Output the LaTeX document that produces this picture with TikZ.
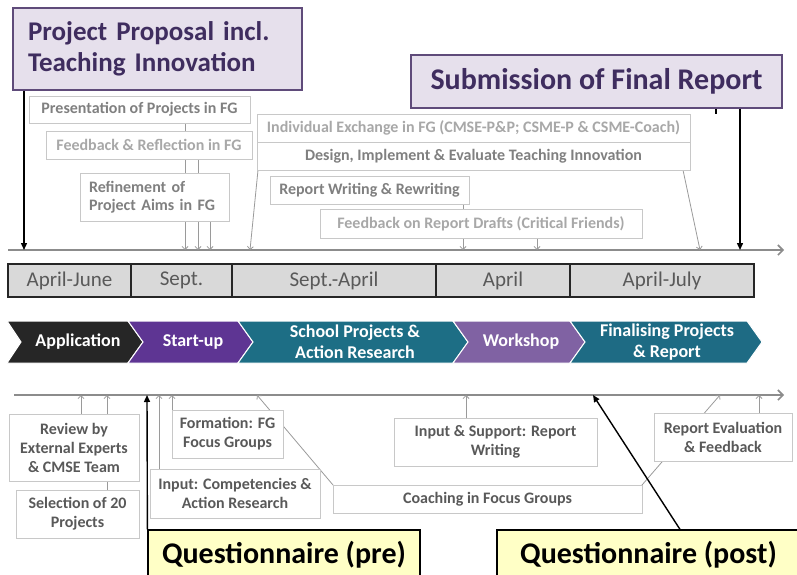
\documentclass[tikz,border=0pt]{standalone}
\usepackage{fontspec}
\setmainfont{Carlito}
\usetikzlibrary{arrows.meta}
\definecolor{bordgray}{HTML}{C8C8C8}
\definecolor{txtdark}{HTML}{808080}
\definecolor{txtlight}{HTML}{A8A8A8}
\definecolor{txtbot}{HTML}{595959}
\definecolor{lav}{HTML}{E6E0EC}
\definecolor{purpborder}{HTML}{5F4B7A}
\definecolor{purptext}{HTML}{3F2D5F}
\definecolor{qyellow}{HTML}{FFFFC6}
\definecolor{monthborder}{HTML}{262626}
\definecolor{monthfill}{HTML}{D9D9D9}
\definecolor{monthtext}{HTML}{595959}
\definecolor{arrgray}{HTML}{9A9A9A}
\definecolor{axgray}{HTML}{8C8C8C}
\definecolor{chA}{HTML}{262626}
\definecolor{chB}{HTML}{5E3593}
\definecolor{chC}{HTML}{1D6E85}
\definecolor{chD}{HTML}{8062A3}
\definecolor{chE}{HTML}{1E6B84}
\begin{document}
\begin{tikzpicture}[x=1pt,y=-1pt,
 gbox/.style={draw=bordgray, fill=white, line width=0.8pt, inner sep=0pt, align=center, font=\fontsize{16}{18}\selectfont\bfseries},
 dark/.style={text=txtdark},
 light/.style={text=txtlight},
 bbox/.style={draw=bordgray, fill=white, line width=0.8pt, inner sep=0pt, align=center, text=txtbot, font=\fontsize{16}{19}\selectfont\bfseries},
 titlebox/.style={draw=purpborder, fill=lav, line width=1.2pt, text=purptext, font=\fontsize{27}{31}\selectfont\bfseries},
 qbox/.style={draw=black, fill=qyellow, line width=1.2pt, inner sep=0pt, font=\fontsize{30}{32}\selectfont\bfseries},
 month/.style={draw=monthborder, fill=monthfill, line width=1.2pt, text=monthtext, font=\fontsize{21}{22}\selectfont, minimum height=33pt, inner sep=0pt},
 chev/.style={text=white, font=\fontsize{18}{21}\selectfont\bfseries, align=center},
 garrow/.style={draw=arrgray, line width=0.8pt, -{Straight Barb[length=3pt,width=6pt]}},
 barrow/.style={draw=black, line width=1.4pt, -{Triangle[length=7pt,width=6pt]}},
 axisline/.style={draw=axgray, line width=1.6pt, -{Straight Barb[length=5pt,width=10pt]}},
 chevshape/.style={draw=white, line width=1pt}
]
\useasboundingbox (0,0) rectangle (797,575);

% ---------- axes ----------
\coordinate (topL) at (8,250);
\coordinate (topR) at (784,250);
\coordinate (botL) at (14,395);
\coordinate (botR) at (784,395);
\draw[axisline] (topL) -- (topR);
\draw[axisline] (botL) -- (botR);

% ---------- axis points (top) ----------
\coordinate (a1) at (24,250);
\coordinate (a2) at (185,250);
\coordinate (a3) at (198,250);
\coordinate (a4) at (210,250);
\coordinate (a5) at (250,250);
\coordinate (a6) at (463,250);
\coordinate (a7) at (537,250);
\coordinate (a8) at (700,250);
\coordinate (a9) at (740,250);
\coordinate (tk) at (716,250);

% ---------- axis points (bottom) ----------
\coordinate (b1) at (81,395);
\coordinate (b2) at (107,395);
\coordinate (b3) at (147,395);
\coordinate (b4) at (159,395);
\coordinate (b5) at (172,395);
\coordinate (b6) at (257,395);
\coordinate (b7) at (466,395);
\coordinate (b8) at (593,395);
\coordinate (b9) at (720,395);
\coordinate (b10) at (759,395);
\coordinate (pq) at (680,395);

% ---------- title boxes ----------
\path
 (157.5,49) node[titlebox, text width=259pt, inner xsep=15pt, inner ysep=0pt, minimum height=82pt, align=left] (prop) {Project Proposal incl.\\Teaching Innovation}
 (596.5,81.5) node[titlebox, font=\fontsize{30}{32}\selectfont\bfseries, minimum width=371pt, minimum height=53pt, inner sep=0pt] (sub) {Submission of Final Report};

% connectors top (drawn before the gray boxes)
\draw[garrow] (a2 |- 0,123) -- (a2);
\draw[garrow] (a3 |- 0,159) -- (a3);
\draw[garrow] (a4 |- 0,221) -- (a4);
\draw[garrow] (258,170) -- (a5);
\draw[garrow] (683,170) -- (a8);
\draw[garrow] (a6 |- 0,204) -- (a6);
\draw[garrow] (a7 |- 0,238) -- (a7);

\node[gbox, dark, minimum width=221pt, minimum height=27pt] (pres) at (139.5,109.5) {Presentation of Projects in FG};
\node[gbox, light, minimum width=206pt, minimum height=28pt] (feed) at (149,145) {Feedback \& Reflection in FG};
\node[gbox, dark, text width=131pt, inner xsep=9pt, minimum height=48pt, align=left] (refi) at (154.5,197) {Refinement of\\Project Aims in FG};
\node[gbox, light, minimum width=433pt, minimum height=28pt] (indiv) at (473.5,128) {Individual Exchange in FG (CMSE-P\&P; CSME-P \& CSME-Coach)};
\node[gbox, dark, minimum width=433pt, minimum height=28pt] (design) at (473.5,156) {Design, Implement \& Evaluate Teaching Innovation};
\node[gbox, dark, minimum width=199pt, minimum height=28pt] (report) at (369.5,190) {Report Writing \& Rewriting};
\node[gbox, light, minimum width=322pt, minimum height=29pt] (fbrep) at (481,223.5) {Feedback on Report Drafts (Critical Friends)};

% black arrows top
\draw[barrow] (a1 |- prop.south) -- (a1);
\draw[barrow] (a9 |- sub.south) -- (a9);
\draw[black, line width=1.2pt] (tk |- sub.south) -- ++(0,5);

% ---------- months ----------
\node[month, minimum width=123pt] (m1) at (69.5,280.5) {April-June};
\node[month, minimum width=101pt] (m2) at (181.5,280.5) {Sept.};
\node[month, minimum width=204pt] (m3) at (334,280.5) {Sept.-April};
\node[month, minimum width=134pt] (m4) at (503,280.5) {April};
\node[month, minimum width=184pt] (m5) at (662,280.5) {April-July};

% ---------- chevrons ----------
\filldraw[chevshape, fill=chA] (7,321) -- (128,321) -- (143,342) -- (128,363) -- (7,363) -- (21,342) -- cycle;
\filldraw[chevshape, fill=chB] (128,321) -- (238,321) -- (253,342) -- (238,363) -- (128,363) -- (143,342) -- cycle;
\filldraw[chevshape, fill=chC] (238,321) -- (453,321) -- (468,342) -- (453,363) -- (238,363) -- (253,342) -- cycle;
\filldraw[chevshape, fill=chD] (453,321) -- (570,321) -- (585,342) -- (570,363) -- (453,363) -- (468,342) -- cycle;
\filldraw[chevshape, fill=chE] (570,321) -- (747,321) -- (762,342) -- (747,363) -- (570,363) -- (585,342) -- cycle;
\node[chev] (c1) at (78,342) {Application};
\node[chev] (c2) at (193,342) {Start-up};
\node[chev] (c3) at (355,342) {School Projects \&\\Action Research};
\node[chev] (c4) at (521,342) {Workshop};
\node[chev] (c5) at (667,342) {Finalising Projects\\\& Report};

% ---------- bottom connectors ----------
\draw[garrow] (b1 |- 0,414) -- (b1);
\draw[garrow] (b2 |- 0,490) -- (b2);
\draw[garrow] (b4 |- 0,469) -- (b4);
\draw[garrow] (b5 |- 0,410) -- (b5);
\draw[garrow] (333,485) -- (b6);
\draw[garrow] (b7 |- 0,418) -- (b7);
\draw[garrow] (642,485) -- (b9);
\draw[garrow] (b10 |- 0,413) -- (b10);

\node[bbox, minimum width=130pt, minimum height=67pt] (rev) at (74,447.5) {Review by\\External Experts\\\& CMSE Team};
\node[bbox, minimum width=123pt, minimum height=48pt] (sel) at (77.5,514) {Selection of 20\\Projects};
\node[bbox, minimum width=111pt, minimum height=48pt] (form) at (227.5,434) {Formation: FG\\Focus Groups};
\node[bbox, minimum width=170pt, minimum height=49pt] (inpc) at (235,493.5) {Input: Competencies \&\\Action Research};
\node[bbox, minimum width=309pt, minimum height=28pt] (coach) at (487.5,499) {Coaching in Focus Groups};
\node[bbox, minimum width=203pt, minimum height=48pt] (inps) at (495.5,442) {Input \& Support: Report\\Writing};
\node[bbox, minimum width=138pt, minimum height=48pt] (reval) at (723,437) {Report Evaluation\\\& Feedback};

% ---------- questionnaires ----------
\node[qbox, minimum width=272pt, minimum height=50pt] (qpre) at (284,555) {Questionnaire (pre)};
\node[qbox, minimum width=303pt, minimum height=50pt] (qpost) at (648.5,555) {Questionnaire (post)};

\draw[barrow] (qpre.north west) -- (b3);
\draw[barrow] (pq |- qpost.north) -- (b8);
\end{tikzpicture}
\end{document}
